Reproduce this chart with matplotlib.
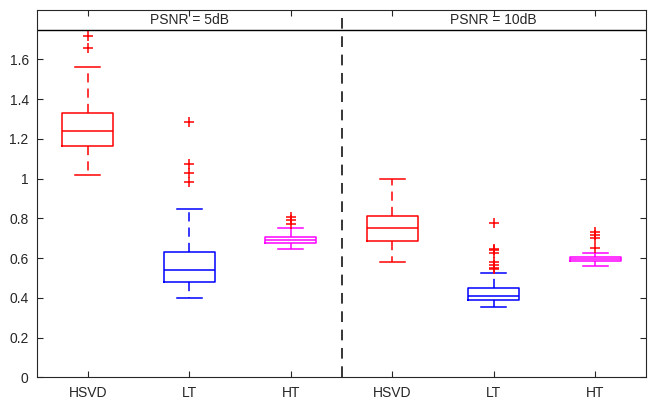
import matplotlib
matplotlib.use("Agg")
from matplotlib import pyplot as plt

# group / method labels
groups = ["PSNR = 5dB", "PSNR = 10dB"]
methods = ["HSVD", "LT", "HT"]
colors = ["#ff0000", "#0000ff", "#ff00ff"]

# box statistics, order: 5dB HSVD, LT, HT, 10dB HSVD, LT, HT
whislo = [1.02, 0.40, 0.645, 0.58, 0.355, 0.562]
q1 = [1.165, 0.481, 0.675, 0.685, 0.389, 0.587]
med = [1.240, 0.538, 0.691, 0.750, 0.411, 0.595]
q3 = [1.331, 0.631, 0.707, 0.812, 0.448, 0.606]
whishi = [1.563, 0.847, 0.750, 1.00, 0.526, 0.623]
fliers = [
    [1.719, 1.658],
    [1.286, 1.073, 1.026, 0.981],
    [0.808, 0.792, 0.771],
    [],
    [0.778, 0.648, 0.640, 0.624, 0.582, 0.565, 0.552, 0.545],
    [0.733, 0.716, 0.699, 0.649],
]

stats = []
for i in range(6):
    stats.append(dict(whislo=whislo[i], q1=q1[i], med=med[i], q3=q3[i],
                      whishi=whishi[i], fliers=fliers[i]))

plt.rcParams["font.family"] = ["Liberation Sans", "DejaVu Sans"]
axcol = "#262626"

fig = plt.figure(figsize=(6.48, 4.0), dpi=100)
ax = fig.add_axes([37/648, 1 - 377.3/400, (646-37)/648, (377.3-10)/400])

positions = list(range(1, 7))
for i in range(6):
    c = colors[i % 3]
    ax.bxp([stats[i]], positions=[positions[i]], widths=0.5, capwidths=0.25,
           boxprops=dict(color=c, lw=1.1),
           medianprops=dict(color=c, lw=1.1),
           whiskerprops=dict(color=c, lw=1.1, ls=(0, (6, 4))),
           capprops=dict(color=c, lw=1.1),
           flierprops=dict(marker="+", markeredgecolor="#ff0000", markersize=7,
                           markeredgewidth=1.1, linestyle="none"))

ax.set_xlim(0.5, 6.5)
ax.set_ylim(0, 1.848)
ax.set_yticks([0, 0.2, 0.4, 0.6, 0.8, 1, 1.2, 1.4, 1.6])
ax.set_yticklabels(["0", "0.2", "0.4", "0.6", "0.8", "1", "1.2", "1.4", "1.6"])
ax.set_xticks(positions)
ax.set_xticklabels(methods * 2)

# separator and header strip
ax.axvline(3.5, color="black", lw=1.1, ls=(0, (7, 5)))
ax.axhline(1.747, color="black", lw=1.0)
ax.text(2, 1.797, groups[0], ha="center", va="center", fontsize=10, color=axcol)
ax.text(5, 1.797, groups[1], ha="center", va="center", fontsize=10, color=axcol)

ax.tick_params(direction="in", top=True, right=True, length=4, width=0.8,
               colors=axcol, labelsize=10, pad=6)
for s in ax.spines.values():
    s.set_color(axcol)
    s.set_linewidth(0.8)

plt.savefig("out.png", dpi=100)
